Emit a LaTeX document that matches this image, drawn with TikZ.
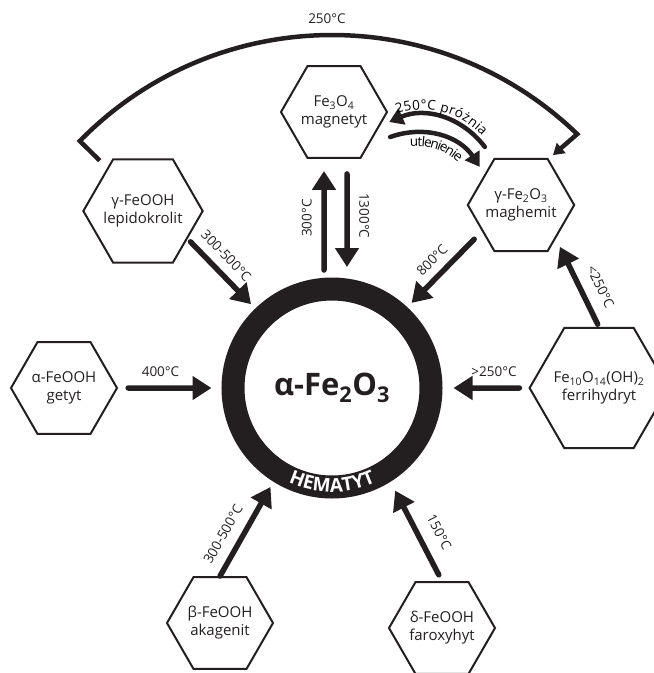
\documentclass[tikz,border=0pt]{standalone}
\usepackage{fontspec}
\setmainfont{Open Sans}
\usetikzlibrary{shapes.geometric,arrows.meta,decorations.text}
\definecolor{ink}{HTML}{231F20}
\newcommand{\degfont}{\fontsize{13.5}{16}\selectfont}
\tikzset{
  phase/.style={regular polygon, regular polygon sides=6, draw=ink, line width=2pt,
    minimum size=106pt, inner sep=-3pt, align=center, text=ink,
    font=\fontsize{15}{18}\selectfont},
  conv/.style={draw=ink, line width=5.5pt, line cap=round, -{Triangle[length=19pt,width=23pt]}},
  redox/.style={draw=ink, line width=4.5pt, line cap=round, -{Triangle[length=14pt,width=17pt]}},
  detour/.style={draw=ink, line width=4.5pt, line join=miter, -{Triangle[length=11pt,width=13pt]}},
  temp/.style={font=\degfont, text=ink},
}

\begin{document}
\begin{tikzpicture}[x=1pt,y=1pt]
\useasboundingbox (0,0) rectangle (654,-673);
% hematite ring in the middle
\node[circle, draw=ink, line width=23pt, minimum size=198pt, inner sep=0pt, text=ink,
  font=\fontsize{31}{33}\selectfont\bfseries] (hema) at (332,-388) {α-Fe\textsubscript{2}O\textsubscript{3}};
\path[decorate, decoration={text along path, text align=center, text color=white,
  text={|\fontsize{19}{19}\selectfont\bfseries|HEMATYT}}]
  ([shift={(225:104)}]hema.center) arc[start angle=225, end angle=315, radius=104];
% the phases round it
\node[phase] (magn) at (334,-112) {Fe\textsubscript{3}O\textsubscript{4}\\magnetyt};
\node[phase] (maghem) at (521,-205) {γ-Fe\textsubscript{2}O\textsubscript{3}\\maghemit};
\node[phase] (lepid) at (143,-211) {γ-FeOOH\\lepidokrolit};
\node[phase] (getyt) at (64,-388) {α-FeOOH\\getyt};
\node[phase] (ferri) at (599,-388) {Fe\textsubscript{10}O\textsubscript{14}(OH)\textsubscript{2}\\ferrihydryt};
\node[phase] (akag) at (220,-623) {β-FeOOH\\akagenit};
\node[phase] (farox) at (442,-628) {δ-FeOOH\\faroxyhyt};
% transformations into hematite
\draw[conv, shorten <=10pt, shorten >=10pt] (getyt) -- (hema) node[temp, pos=0.41, above=5pt] {400°C};
\draw[conv, shorten <=9pt, shorten >=11pt] (ferri) -- (hema) node[temp, pos=0.4, above=5pt] {>250°C};
\draw[conv, shorten <=4pt, shorten >=6pt] (lepid.-32) -- (hema.134) node[temp, sloped, pos=0.4, above=5pt] {300-500°C};
\draw[conv, shorten <=11pt, shorten >=6pt] (maghem.214) -- (hema.47) node[temp, sloped, pos=0.52, above=4.5pt] {800°C};
\draw[conv, shorten <=0pt, shorten >=6pt] (akag.north) -- (hema.238) node[temp, sloped, pos=0.35, above=7pt] {300-500°C};
\draw[conv, shorten <=7pt, shorten >=10pt] (farox.north) -- (hema.302) node[temp, sloped, pos=0.4, above=9pt] {150°C};
% magnetyt <-> hematyt
\draw[conv, shorten <=7.5pt, shorten >=12pt] ([xshift=-8pt]hema.north) -- ([xshift=-10pt]magn.south)
  node[temp, midway, rotate=90, anchor=south, outer sep=9pt] {300°C};
\draw[conv, shorten <=15pt, shorten >=10.5pt] ([xshift=13pt]magn.south) -- ([xshift=15pt]hema.north)
  node[temp, pos=0.48, rotate=-90, anchor=south, outer sep=9pt] {1300°C};
\draw[conv, shorten <=3pt, shorten >=9pt] (ferri.north) -- (maghem.-44) node[temp, sloped, pos=0.36, above=8pt] {<250°C};
% magnetyt <-> maghemit, curved
\draw[redox] ([xshift=-9pt,yshift=11pt]maghem.120) to[bend right=38] ([xshift=1pt,yshift=-10pt]magn.east);
\draw[redox] ([xshift=2pt,yshift=-25pt]magn.east) to[bend left=38] ([xshift=-14pt,yshift=-9pt]maghem.120);
\path[decorate, decoration={text along path, text align=center, raise=5pt, text={|\degfont|250°C próżnia}}]
  ([xshift=1pt,yshift=-10pt]magn.east) to[bend left=38] ([xshift=-9pt,yshift=11pt]maghem.120);
\path[decorate, decoration={text along path, text align=center, raise=-14pt, text={|\degfont|utlenienie}}]
  ([xshift=2pt,yshift=-25pt]magn.east) to[bend left=38] ([xshift=-14pt,yshift=-9pt]maghem.120);
% big arc lepidokrolit -> maghemit
\draw[detour] ([shift={(135.6:325)}]hema.center) -- ([shift={(135.6:353)}]hema.center)
  arc[start angle=135.6, end angle=46, radius=353] -- ([shift={(46.5:321)}]hema.center);
\node[temp] (toplab) at ([xshift=-5pt,yshift=369pt]hema.center) {250°C};
\end{tikzpicture}
\end{document}
